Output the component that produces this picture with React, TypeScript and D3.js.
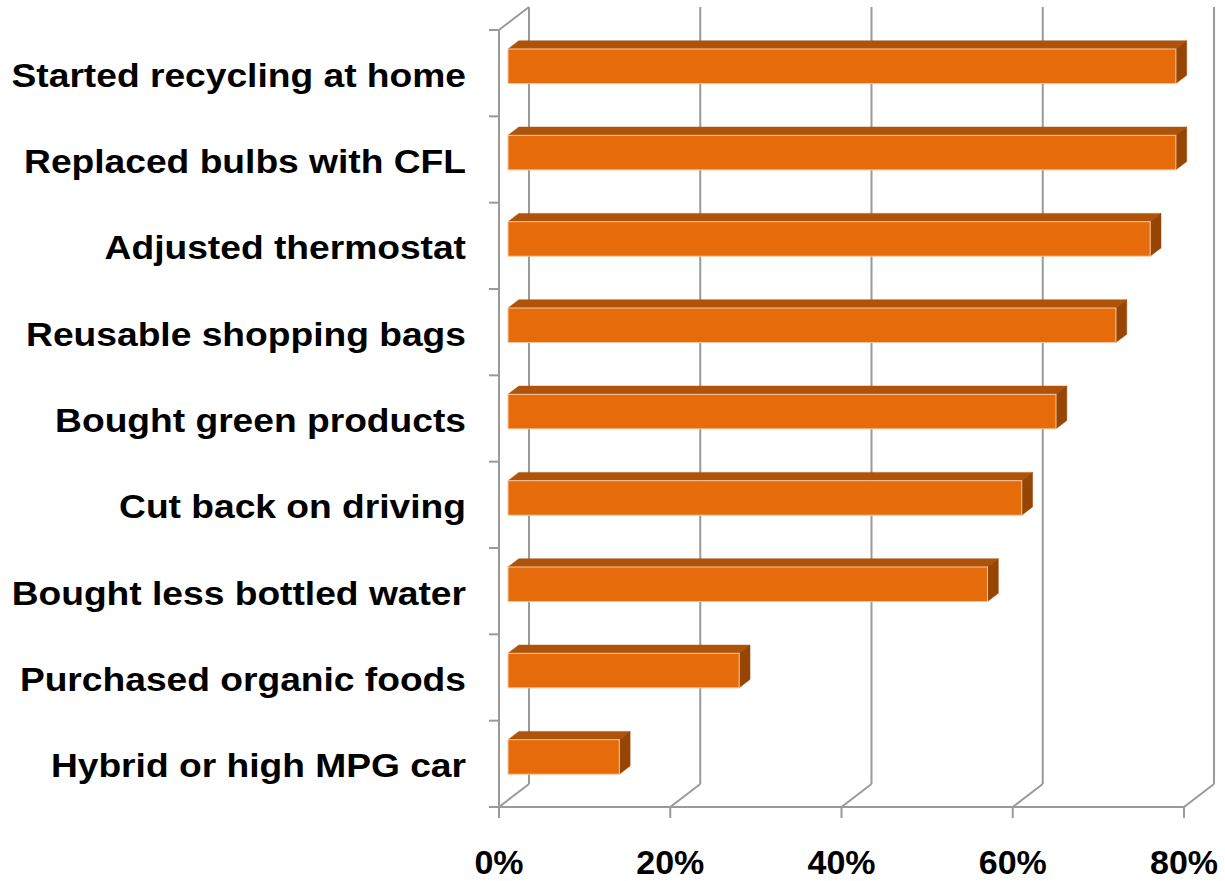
import React from "react";
import * as d3 from "d3";

const categories = [
  "Started recycling at home",
  "Replaced bulbs with CFL",
  "Adjusted thermostat",
  "Reusable shopping bags",
  "Bought green products",
  "Cut back on driving",
  "Bought less bottled water",
  "Purchased organic foods",
  "Hybrid or high MPG car",
];
const values = [0.78, 0.78, 0.75, 0.71, 0.64, 0.6, 0.56, 0.27, 0.13];
const xTicks = [0, 0.2, 0.4, 0.6, 0.8];
const xTickLabels = ["0%", "20%", "40%", "60%", "80%"];

const W = 1225;
const H = 881;
const DX = 30;
const DY = -23;
const FRONT_T = 0.3;
const DEPTH_T = 0.36;

export default function App() {
  const x = d3.scaleLinear().domain([0, 0.8]).range([499, 1184]);
  const y = d3.scaleBand<string>().domain(categories).range([30, 807]).padding(0);
  const step = y.step();
  const barH = step * 0.4;
  const grid = "#9a9a9a";
  const x0 = x(0);
  const yTop = 30;
  const yBot = 807;
  const boundaries = d3.range(categories.length + 1).map((i) => yTop + i * step);

  const font = "'Liberation Sans', Arial, sans-serif";

  return (
    <svg width={W} height={H} style={{ position: "absolute", left: 0, top: 0, background: "#fff" }}>
      {xTicks.map((t, i) => (
        <g key={"g" + i}>
          <line x1={x(t) + DX} y1={yTop + DY} x2={x(t) + DX} y2={yBot + DY} stroke={grid} strokeWidth={2} />
          <line x1={x(t)} y1={yBot} x2={x(t) + DX} y2={yBot + DY} stroke={grid} strokeWidth={2} />
          <line x1={x(t)} y1={yBot} x2={x(t)} y2={yBot + 11} stroke={grid} strokeWidth={2} />
        </g>
      ))}
      <line x1={x0} y1={yTop} x2={x0 + DX} y2={yTop + DY} stroke={grid} strokeWidth={2} />
      <line x1={x0} y1={yTop} x2={x0} y2={yBot} stroke={grid} strokeWidth={2} />
      <line x1={x0 - 10} y1={yBot} x2={x(0.8)} y2={yBot} stroke={grid} strokeWidth={2} />
      {boundaries.map((b, i) => (
        <line key={"t" + i} x1={x0 - 10} y1={b} x2={x0} y2={b} stroke={grid} strokeWidth={2} />
      ))}
      {categories.map((c, i) => {
        const v = values[i];
        const cy = (y(c) as number) + step / 2 + DY * FRONT_T;
        const fx0 = x(0) + DX * FRONT_T;
        const fx1 = x(v) + DX * FRONT_T;
        const ft = cy - barH / 2;
        const fb = cy + barH / 2;
        const ddx = DX * DEPTH_T;
        const ddy = DY * DEPTH_T;
        const top = `M${fx0},${ft} L${fx0 + ddx},${ft + ddy} L${fx1 + ddx},${ft + ddy} L${fx1},${ft} Z`;
        const side = `M${fx1},${ft} L${fx1 + ddx},${ft + ddy} L${fx1 + ddx},${fb + ddy} L${fx1},${fb} Z`;
        return (
          <g key={"b" + i}>
            <path d={top} fill="#B0530A" stroke="#B0530A" strokeWidth={0.5} />
            <path d={side} fill="#964505" stroke="#964505" strokeWidth={0.5} />
            <rect x={fx0} y={ft} width={fx1 - fx0} height={barH} fill="#E66C0B" stroke="#F6C9A2" strokeWidth={1} />
          </g>
        );
      })}
      {categories.map((c, i) => {
        const cy = (y(c) as number) + step / 2;
        return (
          <text
            key={"l" + i}
            transform={`translate(466,${cy + 13.5}) scale(1.11,1)`}
            textAnchor="end"
            fontFamily={font}
            fontWeight="bold"
            fontSize={33.5}
            fill="#000"
          >
            {c}
          </text>
        );
      })}
      {xTicks.map((t, i) => (
        <text
          key={"x" + i}
          x={x(t)}
          y={874}
          textAnchor="middle"
          fontFamily={font}
          fontWeight="bold"
          fontSize={34}
          fill="#000"
        >
          {xTickLabels[i]}
        </text>
      ))}
    </svg>
  );
}
